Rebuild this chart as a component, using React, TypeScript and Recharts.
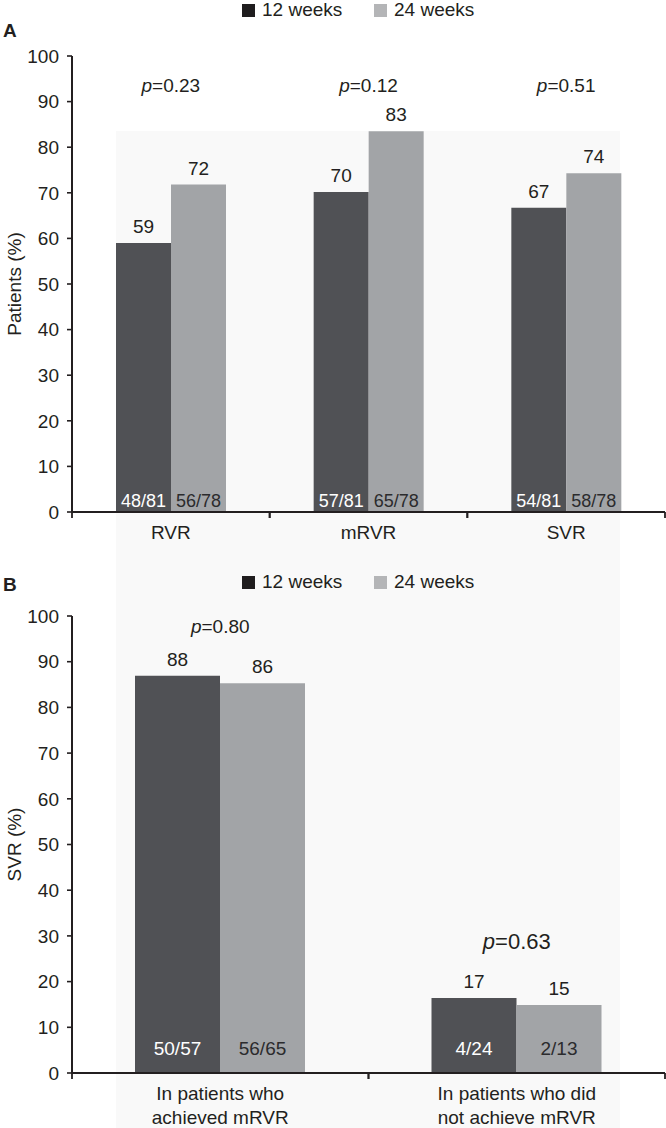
import React from 'react';
import { BarChart, Bar, XAxis, YAxis, LabelList, ReferenceDot } from 'recharts';

// ---------- Panel A data ----------
const categoriesA = ['RVR', 'mRVR', 'SVR'];
const weeks12A = [59.0, 70.2, 66.7];
const weeks24A = [71.8, 83.5, 74.3];
const valueLabels12A = ['59', '70', '67'];
const valueLabels24A = ['72', '83', '74'];
const fractions12A = ['48/81', '57/81', '54/81'];
const fractions24A = ['56/78', '65/78', '58/78'];
const pValuesA = ['0.23', '0.12', '0.51'];
const pPositionA = [93.6, 93.6, 93.6];

// ---------- Panel B data ----------
const categoriesB = ['In patients who achieved mRVR', 'In patients who did not achieve mRVR'];
const categoryLinesB = [
  ['In patients who', 'achieved mRVR'],
  ['In patients who did', 'not achieve mRVR'],
];
const weeks12B = [86.9, 16.4];
const weeks24B = [85.3, 14.9];
const valueLabels12B = ['88', '17'];
const valueLabels24B = ['86', '15'];
const fractions12B = ['50/57', '4/24'];
const fractions24B = ['56/65', '2/13'];
const pValuesB = ['0.80', '0.63'];
const pPositionB = [97.8, 28.8];

const yTicks = [0, 10, 20, 30, 40, 50, 60, 70, 80, 90, 100];
const seriesNames = ['12 weeks', '24 weeks'];

// ---------- Styles ----------
const FONT = '"Liberation Sans", Arial, Helvetica, sans-serif';
const INK = '#231f20';
const DARK_BAR = '#505155';
const LIGHT_BAR = '#a2a4a7';
const DARK_LEGEND = '#1f1d1e';
const LIGHT_LEGEND = '#b4b5b7';
const PLOT_LEFT = 72;
const PLOT_RIGHT = 665;

const dataA = categoriesA.map((c, i) => ({
  category: c,
  w12: weeks12A[i],
  w24: weeks24A[i],
  l12: valueLabels12A[i],
  l24: valueLabels24A[i],
  f12: fractions12A[i],
  f24: fractions24A[i],
}));

const dataB = categoriesB.map((c, i) => ({
  category: c,
  w12: weeks12B[i],
  w24: weeks24B[i],
  l12: valueLabels12B[i],
  l24: valueLabels24B[i],
  f12: fractions12B[i],
  f24: fractions24B[i],
}));

const fractionLabel = (fill: string, bottomGap: number, fontSize: number) => (props: any) => {
  const { x, y, width, height, value } = props;
  return (
    <text
      x={Number(x) + Number(width) / 2}
      y={Number(y) + Number(height) - bottomGap}
      textAnchor="middle"
      fill={fill}
      fontSize={fontSize}
      fontFamily={FONT}
    >
      {value}
    </text>
  );
};

const pLabel = (value: string, fontSize: number) => (props: any) => {
  const vb = props.viewBox || {};
  const cx = Number(vb.x) + Number(vb.width || 0) / 2;
  const cy = Number(vb.y) + Number(vb.height || 0) / 2;
  return (
    <text x={cx} y={cy} textAnchor="middle" dominantBaseline="central" fill={INK} fontSize={fontSize} fontFamily={FONT}>
      <tspan fontStyle="italic">p</tspan>
      <tspan>={value}</tspan>
    </text>
  );
};

const makeXTick = (count: number, lines: string[][] | null, baselines: number[]) => (props: any) => {
  const { x, y, payload } = props;
  const bw = (PLOT_RIGHT - PLOT_LEFT) / count;
  const axisY = Number(y) - 8;
  const idx = payload.index;
  const textLines = lines ? lines[idx] : [String(payload.value)];
  return (
    <g>
      <line x1={x - bw / 2} x2={x - bw / 2} y1={axisY} y2={axisY + 6} stroke={INK} strokeWidth={1.8} />
      <line x1={x + bw / 2} x2={x + bw / 2} y1={axisY} y2={axisY + 6} stroke={INK} strokeWidth={1.8} />
      <text x={x} textAnchor="middle" fill={INK} fontSize={19} fontFamily={FONT}>
        {textLines.map((t, i) => (
          <tspan key={i} x={x} y={axisY + baselines[i]}>
            {t}
          </tspan>
        ))}
      </text>
    </g>
  );
};

const yLabel = (text: string) => (props: any) => {
  const vb = props.viewBox || {};
  const cy = Number(vb.y) + Number(vb.height) / 2;
  const cx = 14;
  return (
    <text
      x={cx}
      y={cy}
      transform={`rotate(-90, ${cx}, ${cy})`}
      textAnchor="middle"
      dominantBaseline="central"
      fill={INK}
      fontSize={19}
      fontFamily={FONT}
    >
      {text}
    </text>
  );
};

const Legend = ({ top }: { top: number }) => (
  <div style={{ position: 'absolute', top, left: 0, width: 666, height: 20 }}>
    {seriesNames.map((name, i) => (
      <div
        key={name}
        style={{
          position: 'absolute',
          left: i === 0 ? 242 : 374,
          top: 0,
          height: 20,
          display: 'flex',
          alignItems: 'center',
          gap: 7,
        }}
      >
        <div style={{ width: 13, height: 13, background: i === 0 ? DARK_LEGEND : LIGHT_LEGEND }} />
        <span style={{ fontSize: 19, color: INK, lineHeight: '20px', whiteSpace: 'nowrap' }}>{name}</span>
      </div>
    ))}
  </div>
);

const PanelLetter = ({ letter, top }: { letter: string; top: number }) => (
  <div style={{ position: 'absolute', left: 3, top, fontSize: 19, fontWeight: 'bold', color: INK, lineHeight: '20px' }}>
    {letter}
  </div>
);

const axisLineStyle = { stroke: INK, strokeWidth: 2 };
const tickLineStyle = { stroke: INK, strokeWidth: 1.6 };

export default function App() {
  return (
    <div
      style={{
        position: 'absolute',
        left: 0,
        top: 0,
        width: 666,
        height: 1128,
        background: '#ffffff',
        fontFamily: FONT,
        overflow: 'hidden',
      }}
    >
      <div style={{ position: 'absolute', left: 116, top: 131, width: 504, height: 997, background: '#f9f9f9' }} />

      {/* Panel A */}
      <Legend top={0} />
      <PanelLetter letter="A" top={21} />
      <div style={{ position: 'absolute', left: 0, top: 0 }}>
        <BarChart
          width={666}
          height={560}
          data={dataA}
          margin={{ top: 56, right: 1, left: 0, bottom: 0 }}
          barGap={0}
        >
          <XAxis
            dataKey="category"
            height={48}
            axisLine={axisLineStyle}
            tickLine={false}
            tickSize={6}
            tickMargin={2}
            interval={0}
            tick={makeXTick(3, null, [27])}
          />
          <YAxis
            width={72}
            domain={[0, 100]}
            ticks={yTicks}
            interval={0}
            axisLine={axisLineStyle}
            tickLine={tickLineStyle}
            tickSize={5}
            tickMargin={8}
            tick={{ fill: INK, fontSize: 19, fontFamily: FONT }}
            label={yLabel('Patients (%)')}
          />
          <Bar dataKey="w12" name={seriesNames[0]} fill={DARK_BAR} barSize={55} isAnimationActive={false}>
            <LabelList dataKey="l12" position="top" offset={10} fill={INK} fontSize={19} fontFamily={FONT} />
            <LabelList dataKey="f12" content={fractionLabel('#ffffff', 5, 18)} />
          </Bar>
          <Bar dataKey="w24" name={seriesNames[1]} fill={LIGHT_BAR} barSize={55} isAnimationActive={false}>
            <LabelList dataKey="l24" position="top" offset={10} fill={INK} fontSize={19} fontFamily={FONT} />
            <LabelList dataKey="f24" content={fractionLabel('#2b2b2d', 5, 18)} />
          </Bar>
          {categoriesA.map((c, i) => (
            <ReferenceDot
              key={c}
              x={c}
              y={pPositionA[i]}
              r={0}
              fill="none"
              stroke="none"
              label={pLabel(pValuesA[i], 19)}
            />
          ))}
        </BarChart>
      </div>

      {/* Panel B */}
      <Legend top={572} />
      <PanelLetter letter="B" top={575} />
      <div style={{ position: 'absolute', left: 0, top: 560 }}>
        <BarChart
          width={666}
          height={568}
          data={dataB}
          margin={{ top: 56, right: 1, left: 0, bottom: 0 }}
          barGap={0}
        >
          <XAxis
            dataKey="category"
            height={55}
            axisLine={axisLineStyle}
            tickLine={false}
            tickSize={6}
            tickMargin={2}
            interval={0}
            tick={makeXTick(2, categoryLinesB, [27, 51])}
          />
          <YAxis
            width={72}
            domain={[0, 100]}
            ticks={yTicks}
            interval={0}
            axisLine={axisLineStyle}
            tickLine={tickLineStyle}
            tickSize={5}
            tickMargin={8}
            tick={{ fill: INK, fontSize: 19, fontFamily: FONT }}
            label={yLabel('SVR (%)')}
          />
          <Bar dataKey="w12" name={seriesNames[0]} fill={DARK_BAR} barSize={85} isAnimationActive={false}>
            <LabelList dataKey="l12" position="top" offset={10} fill={INK} fontSize={19} fontFamily={FONT} />
            <LabelList dataKey="f12" content={fractionLabel('#ffffff', 18, 19)} />
          </Bar>
          <Bar dataKey="w24" name={seriesNames[1]} fill={LIGHT_BAR} barSize={85} isAnimationActive={false}>
            <LabelList dataKey="l24" position="top" offset={10} fill={INK} fontSize={19} fontFamily={FONT} />
            <LabelList dataKey="f24" content={fractionLabel('#2b2b2d', 18, 19)} />
          </Bar>
          {categoriesB.map((c, i) => (
            <ReferenceDot
              key={c}
              x={c}
              y={pPositionB[i]}
              r={0}
              fill="none"
              stroke="none"
              label={pLabel(pValuesB[i], i === 0 ? 19 : 22)}
            />
          ))}
        </BarChart>
      </div>
    </div>
  );
}
